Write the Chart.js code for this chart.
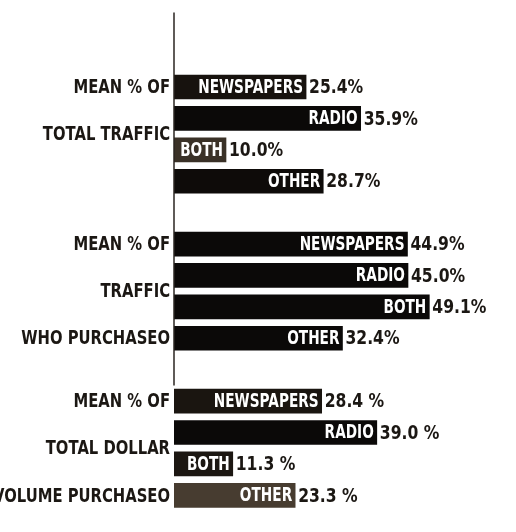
<!DOCTYPE html>
<html><head><meta charset="utf-8">
<script src="https://cdn.jsdelivr.net/npm/chart.js@4/dist/chart.umd.min.js"></script>
<style>html,body{margin:0;padding:0;background:#fff}#wrap{width:516px;height:532px}</style>
</head><body><div id="wrap"><canvas id="c" width="516" height="532"></canvas></div>
<script>
const media = ["NEWSPAPERS", "RADIO", "BOTH", "OTHER"];
const totalTraffic = [25.4, 35.9, 10.0, 28.7];
const trafficWhoPurchased = [44.9, 45.0, 49.1, 32.4];
const dollarVolumePurchased = [28.4, 39.0, 11.3, 23.3];
const groupLabels = [
  ["MEAN % OF", "TOTAL TRAFFIC"],
  ["MEAN % OF", "TRAFFIC", "WHO PURCHASEO"],
  ["MEAN % OF", "TOTAL DOLLAR", "VOLUME PURCHASEO"]
];
const groupLabelRows = [[0, 1.5], [0, 1.5, 3], [0, 1.5, 3]];
const valueSuffix = ["%", "%", " %"];
const groupSeries = [totalTraffic, trafficWhoPurchased, dollarVolumePurchased];
const barColors = [
  ["#17120e", "#0b0908", "#3a3127", "#0e0b09"],
  ["#0b0908", "#0b0908", "#0b0908", "#0b0908"],
  ["#1a1510", "#0b0908", "#1c1712", "#473c30"]
];

// build rows: 2 leading spacers, then groups separated by one spacer row
const rows = [];
rows.push({g: -1}, {g: -1});
groupSeries.forEach((s, gi) => {
  if (gi > 0) rows.push({g: -1});
  s.forEach((v, mi) => rows.push({g: gi, m: mi, v: v}));
});
const categories = rows.map(r => r.g < 0 ? "" : media[r.m]);
const values = rows.map(r => r.g < 0 ? null : r.v);
const colors = rows.map(r => r.g < 0 ? "#000" : barColors[r.g][r.m]);

const FONT = '"DejaVu Sans", sans-serif';
const INK = "#1b1713";

function squeezeText(ctx, text, x, y, align, sx) {
  ctx.save();
  ctx.translate(x, y);
  ctx.scale(sx, 1);
  ctx.textAlign = align;
  ctx.fillText(text, 0, 0);
  ctx.restore();
}

const labelPlugin = {
  id: "labels",
  afterDatasetsDraw(chart) {
    const ctx = chart.ctx;
    const xs = chart.scales.x, ys = chart.scales.y;
    const meta = chart.getDatasetMeta(0);
    const x0 = xs.getPixelForValue(0);
    const step = ys.getPixelForValue(1) - ys.getPixelForValue(0);
    ctx.save();
    const firstG3 = rows.findIndex(r => r.g === 2);
    ctx.strokeStyle = "#2a2520";
    ctx.lineWidth = 1.5;
    ctx.beginPath();
    ctx.moveTo(x0, chart.chartArea.top + 4);
    ctx.lineTo(x0, ys.getPixelForValue(firstG3) - step / 2);
    ctx.stroke();

    ctx.textBaseline = "middle";
    rows.forEach((r, i) => {
      if (r.g < 0) return;
      const el = meta.data[i];
      const xe = el.x, y = el.y;
      ctx.font = "bold 19px " + FONT;
      ctx.fillStyle = "#ffffff";
      squeezeText(ctx, media[r.m], xe - 3, y + 1, "right", 0.72);
      ctx.font = "bold 20px " + FONT;
      ctx.fillStyle = INK;
      squeezeText(ctx, r.v.toFixed(1) + valueSuffix[r.g], xe + 3, y + 1, "left", 0.78);
    });
    ctx.font = "bold 20px " + FONT;
    ctx.fillStyle = INK;
    groupLabels.forEach((lines, gi) => {
      const first = rows.findIndex(r => r.g === gi);
      lines.forEach((t, li) => {
        const y = ys.getPixelForValue(first) + groupLabelRows[gi][li] * step;
        squeezeText(ctx, t, x0 - 4, y + 1, "right", 0.74);
      });
    });
    ctx.restore();
  }
};

new Chart(document.getElementById("c"), {
  type: "bar",
  data: {
    labels: categories,
    datasets: [{
      data: values,
      backgroundColor: colors,
      borderWidth: 0,
      barThickness: 24
    }]
  },
  options: {
    indexAxis: "y",
    responsive: false,
    animation: false,
    layout: {padding: {left: 174, right: 30, top: 8.5, bottom: 21}},
    scales: {
      x: {display: false, min: 0, max: 60},
      y: {display: false}
    },
    plugins: {legend: {display: false}, tooltip: {enabled: false}}
  },
  plugins: [labelPlugin]
});
</script>
</body></html>
